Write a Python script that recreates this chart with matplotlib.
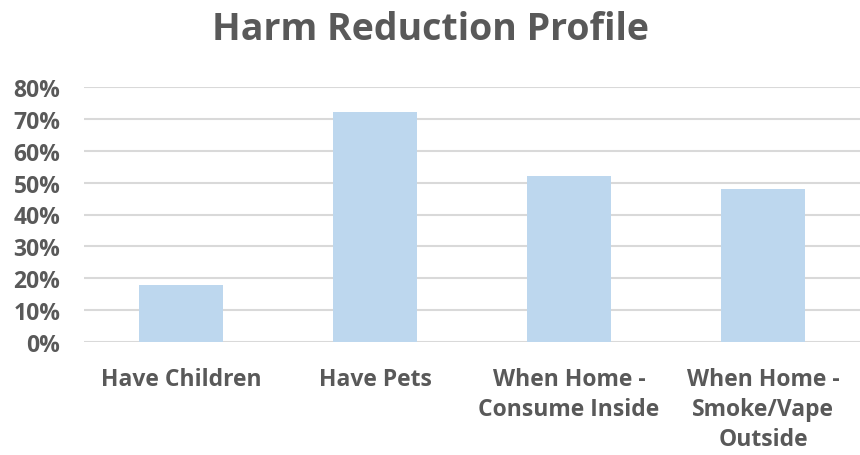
import matplotlib
matplotlib.use("Agg")
import matplotlib.pyplot as plt
from matplotlib.ticker import PercentFormatter

# Datos del perfil
categorias = ["Have Children", "Have Pets", "When Home -\nConsume Inside",
              "When Home -\nSmoke/Vape\nOutside"]
valores = [0.18, 0.72, 0.52, 0.48]
ticks_y = [0, 0.1, 0.2, 0.3, 0.4, 0.5, 0.6, 0.7, 0.8]

gris = "#595959"
plt.rcParams["font.family"] = ["Open Sans", "DejaVu Sans"]

fig = plt.figure(figsize=(8.6, 4.56), dpi=100)
ax = fig.add_axes([84 / 860, 1 - 343.3 / 456, 776 / 860, 255.6 / 456])

x = range(len(categorias))
ax.bar(x, valores, width=0.43, color="#BDD7EE", zorder=2)

ax.set_xlim(-0.5, len(categorias) - 0.5)
ax.set_ylim(0, 0.8)
ax.set_yticks(ticks_y)
ax.yaxis.set_major_formatter(PercentFormatter(1.0, decimals=0))
ax.grid(axis="y", color="#D9D9D9", linewidth=1.5, zorder=0)
for s in ax.spines.values():
    s.set_visible(False)

ax.set_xticks(list(x))
ax.set_xticklabels(categorias, linespacing=1.32)
ax.tick_params(axis="x", length=0, pad=18, labelsize=16.5, labelcolor=gris)
ax.tick_params(axis="y", length=0, pad=17, labelsize=16.5, labelcolor=gris)
for lbl in ax.get_xticklabels() + ax.get_yticklabels():
    lbl.set_fontweight("bold")

fig.suptitle("Harm Reduction Profile", x=0.5, y=0.975, va="top",
             fontsize=27, fontweight="bold", color=gris)

fig.savefig("out.png", dpi=100)
